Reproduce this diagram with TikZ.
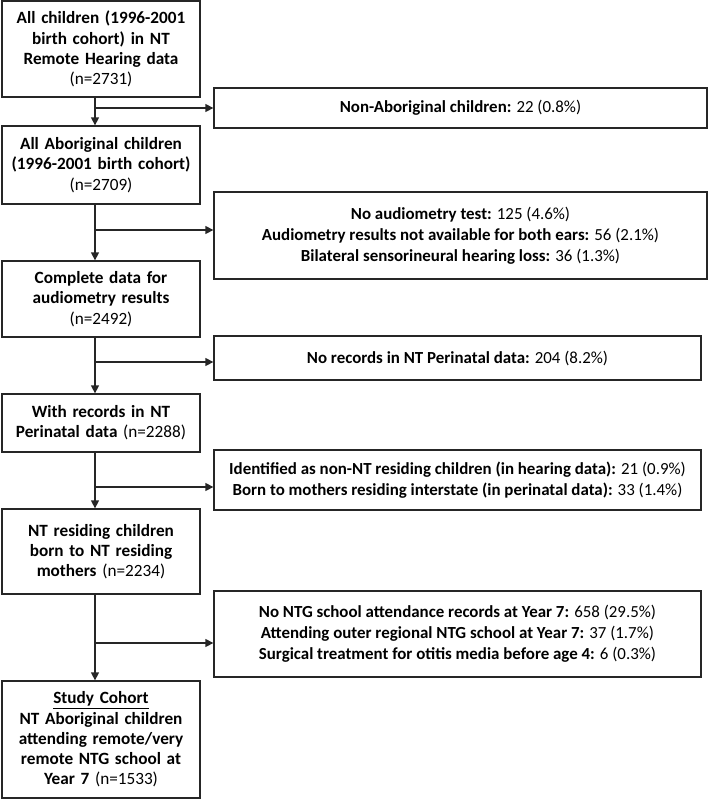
\documentclass[tikz,border=0pt]{standalone}
\usepackage{fontspec}
\setmainfont{Carlito}
\usepackage{xcolor}
\usepackage{tikz}
\usetikzlibrary{arrows.meta,positioning}
\definecolor{edge}{HTML}{262626}
\tikzset{
  stage/.style ={draw=edge,line width=1.3pt,fill=white,inner sep=2pt,
                 align=center,text width=194pt,minimum width=198pt,
                 font=\fontsize{17.2}{20.3}\selectfont},
  drop/.style  ={draw=edge,line width=1.3pt,fill=white,inner sep=3pt,
                 align=center,font=\fontsize{16.9}{21}\selectfont},
  flow/.style  ={-{Triangle[length=8pt,width=8pt]},line width=1.3pt,draw=edge}
}

\begin{document}
\begin{tikzpicture}[x=1pt,y=-1pt]
    \useasboundingbox (0,0) rectangle (709,807);
    % --- left column: the cohort, top to bottom ---
    \node[stage,minimum height=96pt] (all) at (101,49)
      {\textbf{All children (1996-2001}\\\textbf{birth cohort) in NT}\\
       \textbf{Remote Hearing data}\\(n=2731)};
    \node[stage,minimum height=78pt] (abor) at (101,165)
      {\textbf{All Aboriginal children}\\\textbf{(1996-2001 birth cohort)}\\(n=2709)};
    \node[stage,minimum height=76pt] (audio) at (101,299)
      {\textbf{Complete data for}\\\textbf{audiometry results}\\(n=2492)};
    \node[stage,minimum height=58pt] (peri) at (101,423)
      {\textbf{With records in NT}\\\textbf{Perinatal data} (n=2288)};
    \node[stage,minimum height=85pt] (resid) at (101,551.5)
      {\textbf{NT residing children}\\\textbf{born to NT residing}\\\textbf{mothers} (n=2234)};
    \node[stage,minimum height=117pt] (cohort) at (101,739.5)
      {\textbf{\underline{Study Cohort}}\\\textbf{NT Aboriginal children}\\
       \textbf{attending remote/very}\\\textbf{remote NTG school at}\\
       \textbf{Year 7} (n=1533)};
    % --- right column: exclusions ---
    \node[drop,minimum width=493pt,minimum height=40pt] (nonab) at (460.5,108)
      {\textbf{Non-Aboriginal children:} 22 (0.8\%)};
    \node[drop,minimum width=493pt,minimum height=87pt] (noaud) at (460.5,235.5)
      {\textbf{No audiometry test:} 125 (4.6\%)\\
       \textbf{Audiometry results not available for both ears:} 56 (2.1\%)\\
       \textbf{Bilateral sensorineural hearing loss:} 36 (1.3\%)};
    \node[drop,minimum width=487pt,minimum height=44pt] (noperi) at (457.5,358)
      {\textbf{No records in NT Perinatal data:} 204 (8.2\%)};
    \node[drop,minimum width=487pt,minimum height=60pt] (nonnt) at (457.5,480)
      {\textbf{Identified as non-NT residing children (in hearing data):} 21 (0.9\%)\\
       \textbf{Born to mothers residing interstate (in perinatal data):} 33 (1.4\%)};
    \node[drop,minimum width=487pt,minimum height=86pt] (noschool) at (457.5,634)
      {\textbf{No NTG school attendance records at Year 7:} 658 (29.5\%)\\
       \textbf{Attending outer regional NTG school at Year 7:} 37 (1.7\%)\\
       \textbf{Surgical treatment for otitis media before age 4:} 6 (0.3\%)};
    % --- branch points on the spine ---
    \coordinate (j1) at (95,108);
    \coordinate (j2) at (95,230);
    \coordinate (j3) at (95,362);
    \coordinate (j4) at (95,487);
    \coordinate (j5) at (95,643);
    % --- flow ---
    \draw[flow] (all.south -| j1) -- (abor.north -| j1);
    \draw[flow] (abor.south -| j1) -- (audio.north -| j1);
    \draw[flow] (audio.south -| j1) -- (peri.north -| j1);
    \draw[flow] (peri.south -| j1) -- (resid.north -| j1);
    \draw[flow] (resid.south -| j1) -- (cohort.north -| j1);
    \draw[flow] (j1) -- (j1 -| nonab.west);
    \draw[flow] (j2) -- (j2 -| noaud.west);
    \draw[flow] (j3) -- (j3 -| noperi.west);
    \draw[flow] (j4) -- (j4 -| nonnt.west);
    \draw[flow] (j5) -- (j5 -| noschool.west);
  \end{tikzpicture}
\end{document}
